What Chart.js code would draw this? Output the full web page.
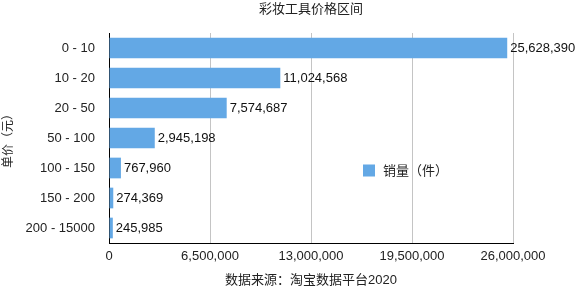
<!DOCTYPE html>
<html>
<head>
<meta charset="utf-8">
<script src="https://cdn.jsdelivr.net/npm/chart.js@4/dist/chart.umd.min.js"></script>
<style>
html,body{margin:0;padding:0;background:#fff;}
canvas{display:block;}
</style>
</head>
<body>
<canvas id="c" width="575" height="289"></canvas>
<script>
const chartTitle = '彩妆工具价格区间';
const categories = ['0 - 10', '10 - 20', '20 - 50', '50 - 100', '100 - 150', '150 - 200', '200 - 15000'];
const seriesName = '销量（件）';
const salesValues = [25628390, 11024568, 7574687, 2945198, 767960, 274369, 245985];
const xTickStep = 6500000;
const xMax = 26000000;
const yAxisTitle = '单价（元）';
const xAxisTitle = '数据来源：淘宝数据平台2020';

const FONT = '"Liberation Sans", Arial, "Noto Sans CJK SC", sans-serif';
const CJK = '"Liberation Sans", "Noto Sans CJK SC", sans-serif';
const barColor = '#63a8e5';
const fmt = v => Number(v).toLocaleString('en-US');

const valueLabels = {
  id: 'valueLabels',
  afterDatasetsDraw(chart) {
    const ctx = chart.ctx;
    const meta = chart.getDatasetMeta(0);
    ctx.save();
    ctx.font = '13px ' + FONT;
    ctx.fillStyle = '#111';
    ctx.textAlign = 'left';
    ctx.textBaseline = 'middle';
    meta.data.forEach((bar, i) => {
      ctx.fillText(fmt(chart.data.datasets[0].data[i]), bar.x + 3, bar.y + 0.5);
    });
    ctx.restore();
  }
};

const customLegend = {
  id: 'customLegend',
  afterDraw(chart) {
    const ctx = chart.ctx;
    const x = 363, y = 170.5;
    ctx.save();
    ctx.fillStyle = barColor;
    ctx.fillRect(x, y - 6, 12, 12);
    ctx.font = '13px ' + CJK;
    ctx.fillStyle = '#222';
    ctx.textAlign = 'left';
    ctx.textBaseline = 'middle';
    ctx.fillText(chart.data.datasets[0].label, x + 20, y + 0.5);
    ctx.restore();
  }
};

new Chart(document.getElementById('c'), {
  type: 'bar',
  data: {
    labels: categories,
    datasets: [{
      label: seriesName,
      data: salesValues,
      backgroundColor: barColor,
      borderWidth: 0,
      categoryPercentage: 1,
      barPercentage: 0.69
    }]
  },
  plugins: [valueLabels, customLegend],
  options: {
    indexAxis: 'y',
    responsive: false,
    devicePixelRatio: 1,
    animation: false,
    layout: { padding: { left: 0, right: 62, top: 0, bottom: 0 } },
    plugins: {
      legend: { display: false },
      tooltip: { enabled: false },
      title: {
        display: true,
        text: chartTitle,
        fullSize: false,
        color: '#222',
        font: { family: CJK, size: 13, weight: 'normal' },
        padding: { top: 2, bottom: 15.4 }
      }
    },
    scales: {
      x: {
        min: 0,
        max: xMax,
        afterFit(s) { s.height = 46; },
        ticks: {
          stepSize: xTickStep,
          color: '#222',
          padding: 6,
          maxRotation: 0,
          font: { family: FONT, size: 13 },
          callback: v => fmt(v)
        },
        grid: { display: true, color: '#c4c4c4', drawTicks: false, lineWidth: 1 },
        border: { display: true, color: '#000', width: 1 },
        title: {
          display: true,
          text: xAxisTitle,
          color: '#222',
          font: { family: CJK, size: 13 },
          padding: { top: 0, bottom: 1 }
        }
      },
      y: {
        afterFit(s) { s.width = 109; },
        ticks: {
          color: '#222',
          padding: 14,
          font: { family: FONT, size: 13 }
        },
        grid: { display: false, drawTicks: false },
        border: { display: true, color: '#000', width: 1 },
        title: {
          display: true,
          text: yAxisTitle,
          color: '#222',
          font: { family: CJK, size: 12 },
          padding: { top: 1.5, bottom: 0 }
        }
      }
    }
  }
});
</script>
</body>
</html>
